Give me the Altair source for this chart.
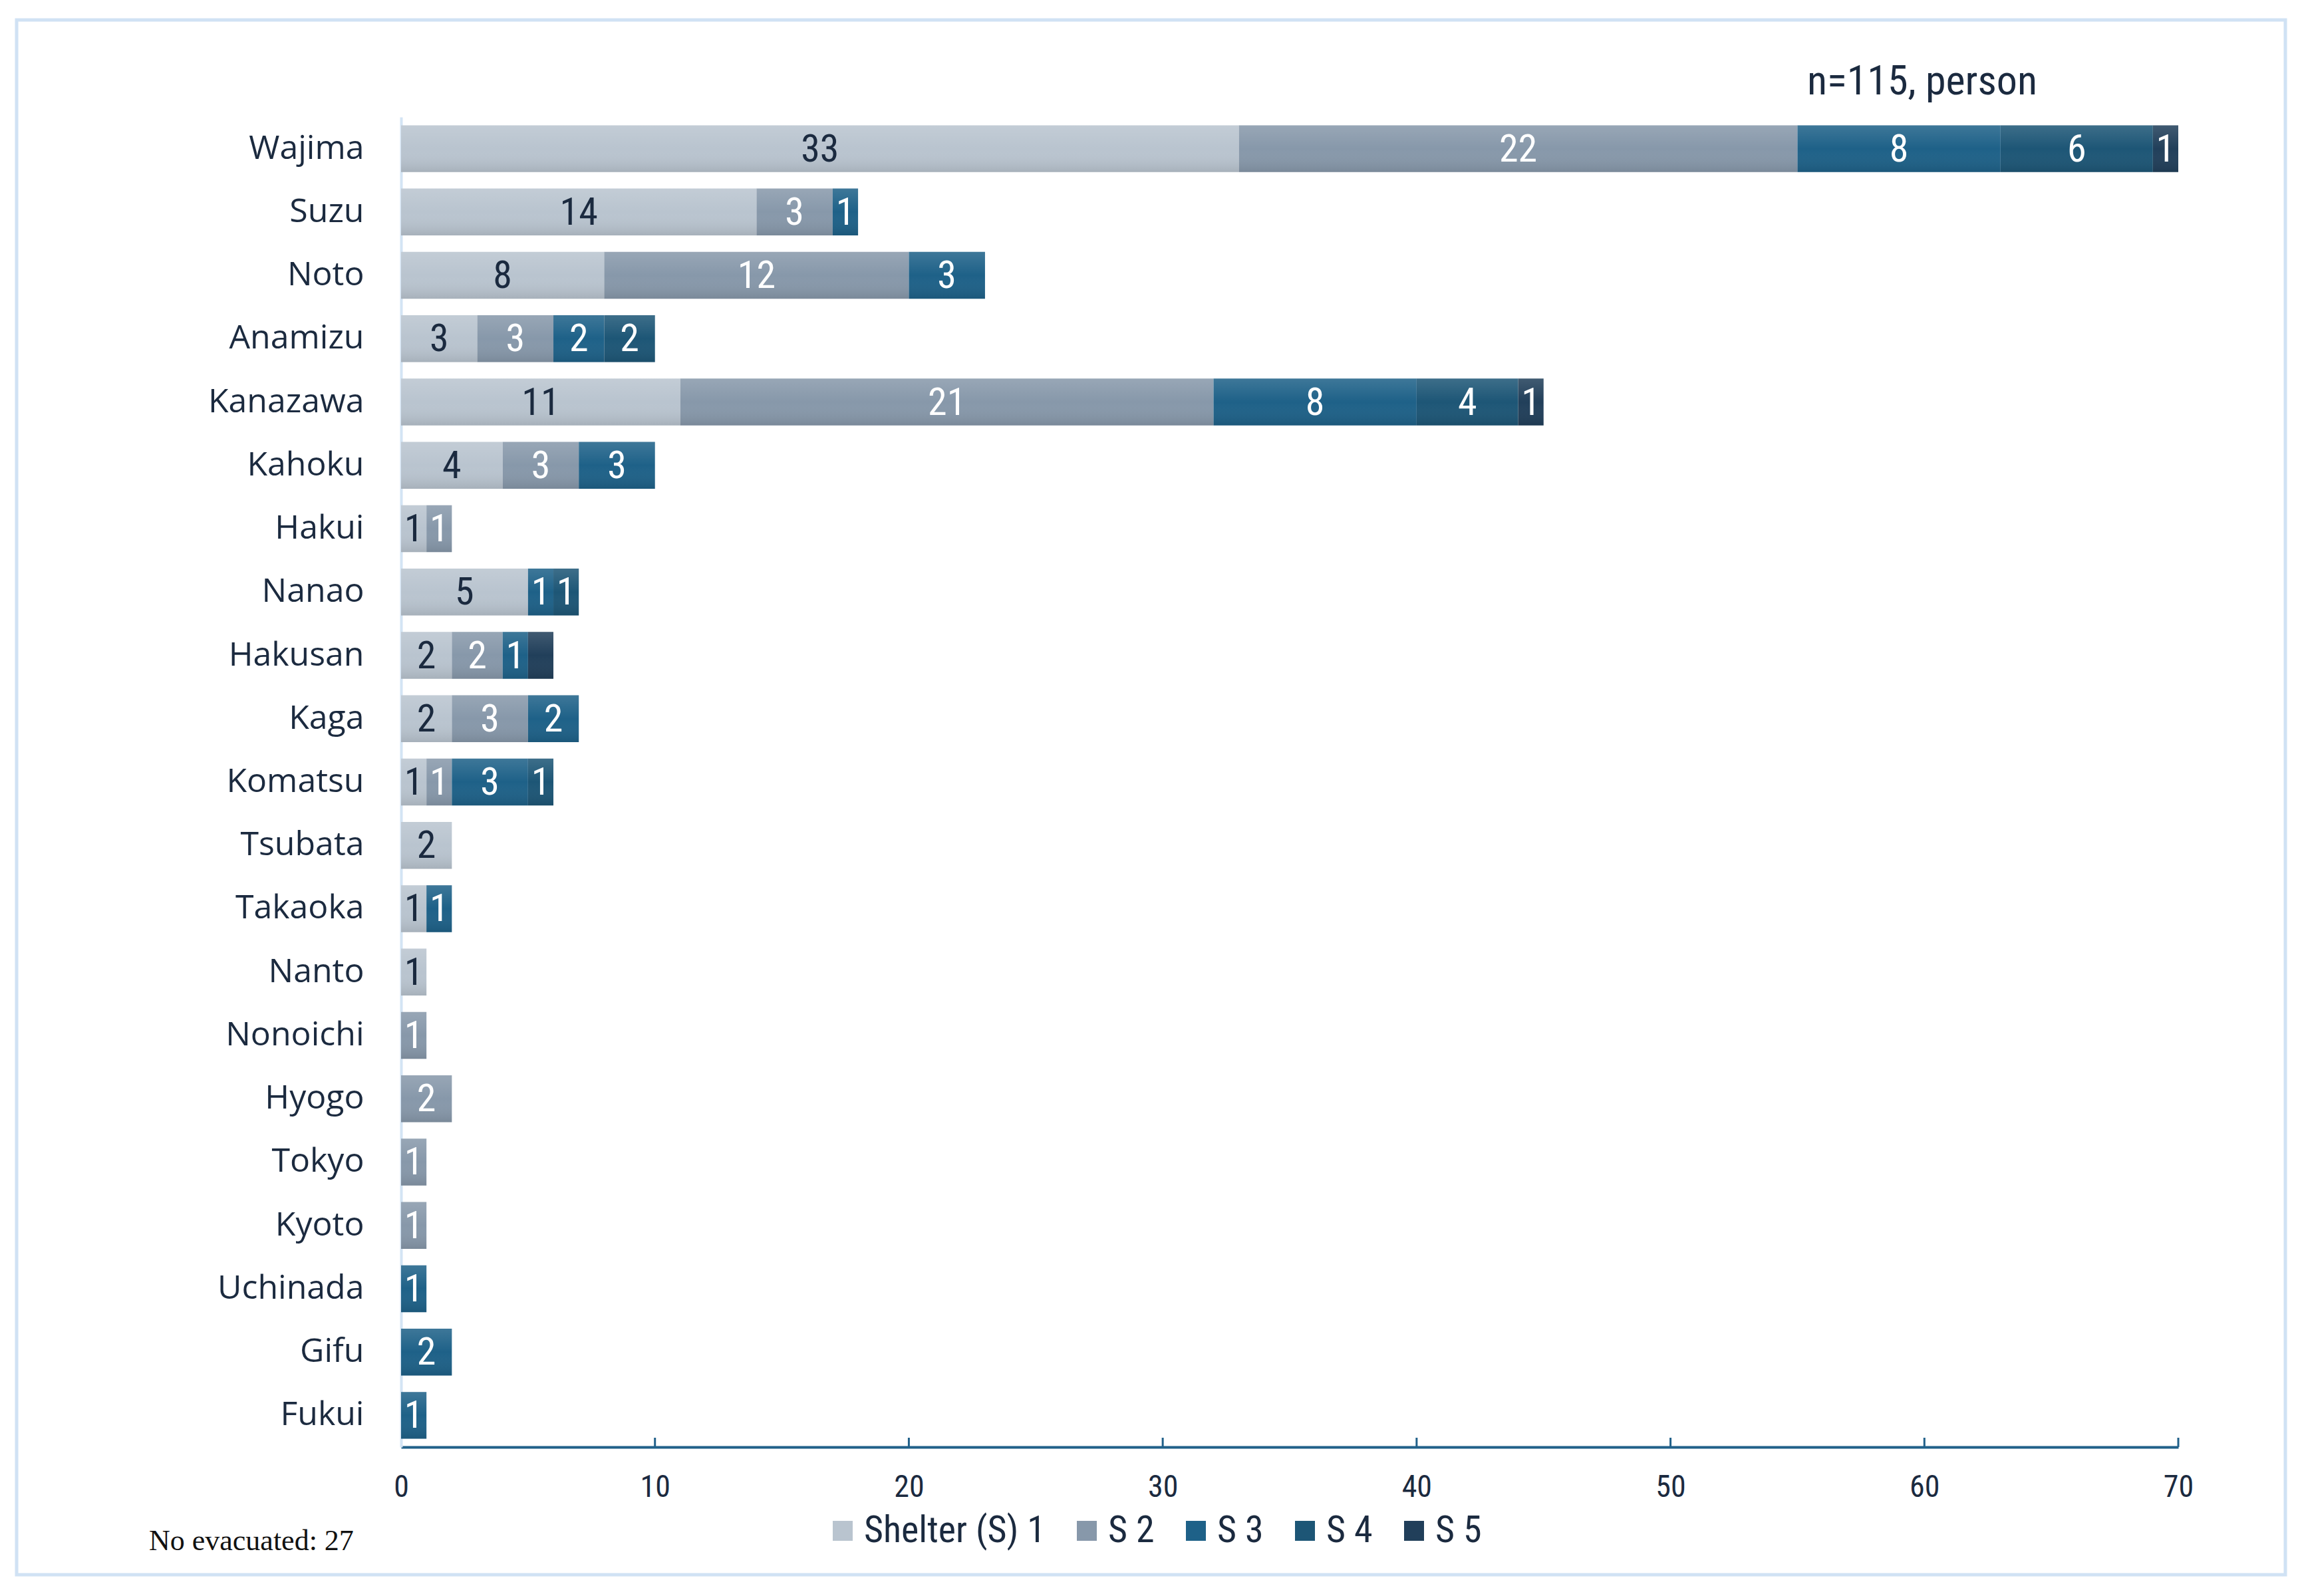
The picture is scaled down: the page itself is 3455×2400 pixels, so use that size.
import altair as alt
import pandas as pd

# ---------------- data ----------------
cities = ["Wajima", "Suzu", "Noto", "Anamizu", "Kanazawa", "Kahoku", "Hakui",
          "Nanao", "Hakusan", "Kaga", "Komatsu", "Tsubata", "Takaoka", "Nanto",
          "Nonoichi", "Hyogo", "Tokyo", "Kyoto", "Uchinada", "Gifu", "Fukui"]
series = ["Shelter (S) 1", "S 2", "S 3", "S 4", "S 5"]
s1 = [33, 14, 8, 3, 11, 4, 1, 5, 2, 2, 1, 2, 1, 1, 0, 0, 0, 0, 0, 0, 0]
s2 = [22, 3, 12, 3, 21, 3, 1, 0, 2, 3, 1, 0, 0, 0, 1, 2, 1, 1, 0, 0, 0]
s3 = [8, 1, 3, 2, 8, 3, 0, 1, 1, 2, 3, 0, 1, 0, 0, 0, 0, 0, 1, 2, 1]
s4 = [6, 0, 0, 2, 4, 0, 0, 1, 0, 0, 1, 0, 0, 0, 0, 0, 0, 0, 0, 0, 0]
s5 = [1, 0, 0, 0, 1, 0, 0, 0, 1, 0, 0, 0, 0, 0, 0, 0, 0, 0, 0, 0, 0]
hidden_labels = [("Hakusan", "S 5")]   # segment drawn without a data label
colors = ["#b9c4cf", "#8798aa", "#1e6188", "#1d5676", "#213f5a"]
x_ticks = [0, 10, 20, 30, 40, 50, 60, 70]
note_top = "n=115, person"
note_bottom = "No evacuated: 27"

rows = []
for si, (name, vals) in enumerate(zip(series, [s1, s2, s3, s4, s5])):
    for ci, (c, v) in enumerate(zip(cities, vals)):
        if v > 0:
            lab = "" if (c, name) in hidden_labels else str(v)
            rows.append({"city": c, "series": name, "order": si, "value": v, "label": lab})
df = pd.DataFrame(rows)

W, H = 2672, 2000
NARROW = "Liberation Sans Narrow, Roboto Condensed, DejaVu Sans Condensed, Arial Narrow, sans-serif"
REG = "Open Sans, Noto Sans, Liberation Sans, sans-serif"
DARK = "#1b2a3f"
AXBLUE = "#21618a"

base = alt.Chart(df).transform_stack(
    stack="value", groupby=["city"], as_=["x0", "x1"],
    sort=[alt.SortField("order", order="ascending")]
)

y_enc = alt.Y("city:N", sort=cities, title=None,
              scale=alt.Scale(paddingInner=0.26, paddingOuter=0.13),
              axis=alt.Axis(labelFont=REG, labelFontSize=50, labelColor=DARK,
                            labelPadding=56, labelLimit=0, ticks=False,
                            domainColor="#d3e4f4", domainWidth=4, grid=False))
x_scale = alt.Scale(domain=[0, 70], nice=False)

bars = base.mark_bar(strokeWidth=0).encode(
    y=y_enc,
    x=alt.X("x0:Q", scale=x_scale, title=None,
            axis=alt.Axis(values=x_ticks, labelFont=NARROW, labelFontSize=46,
                          labelColor=DARK, labelPadding=38, labelFlush=False,
                          ticks=False, domainColor=AXBLUE, domainWidth=4, grid=False)),
    x2="x1:Q",
    color=alt.Color("series:N", scale=alt.Scale(domain=series, range=colors),
                    legend=alt.Legend(title=None, orient="none", direction="horizontal",
                                      columns=5, legendX=636, legendY=2098,
                                      symbolType="square", symbolSize=900,
                                      symbolStrokeWidth=0, labelFont=NARROW,
                                      labelFontSize=56, labelColor=DARK, labelLimit=0,
                                      labelOffset=4, columnPadding=34,
                                      symbolOffset=0)),
)

shade = base.mark_bar(
    color=alt.Gradient(gradient="linear", x1=0, x2=0, y1=0, y2=1,
                       stops=[alt.GradientStop(color="rgba(255,255,255,0.14)", offset=0),
                              alt.GradientStop(color="rgba(255,255,255,0.0)", offset=0.5),
                              alt.GradientStop(color="rgba(0,0,0,0.10)", offset=1)])
).encode(y=alt.Y("city:N", sort=cities), x="x0:Q", x2="x1:Q")

labels = base.transform_calculate(mid="(datum.x0 + datum.x1) / 2").mark_text(
    font=NARROW, fontSize=58, baseline="middle", align="center", dy=2
).encode(
    y=alt.Y("city:N", sort=cities),
    x=alt.X("mid:Q"),
    text="label:N",
    color=alt.condition(alt.datum.order == 0, alt.value(DARK), alt.value("white")),
)

tick_df = pd.DataFrame({"t": x_ticks[1:]})
ticks = alt.Chart(tick_df).mark_rule(color=AXBLUE, strokeWidth=3).encode(
    x=alt.X("t:Q"), y=alt.value(H - 14), y2=alt.value(H)
)

one = pd.DataFrame({"a": [0]})
frame = alt.Chart(one).mark_rect(fill="transparent", stroke="#d0e2f4", strokeWidth=5).encode(
    x=alt.value(25 - 603), x2=alt.value(3436 - 603),
    y=alt.value(30 - 176), y2=alt.value(2368 - 176)
)
top_note = alt.Chart(one).mark_text(
    text=note_top, font=NARROW, fontSize=62, color=DARK, align="left", baseline="middle"
).encode(x=alt.value(2717 - 603), y=alt.value(123 - 176))
bottom_note = alt.Chart(one).mark_text(
    text=note_bottom, font="Liberation Serif, Times New Roman, serif", fontSize=44,
    color="#111111", align="left", baseline="middle"
).encode(x=alt.value(224 - 603), y=alt.value(2318 - 176))

chart = alt.layer(frame, bars, shade, labels, ticks, top_note, bottom_note).properties(
    width=W, height=H,
    background="white",
    autosize=alt.AutoSizeParams(type="none"),
    padding={"left": 595, "top": 168, "right": 172, "bottom": 216},
).configure_view(strokeWidth=0, stroke="transparent")

chart.save("out.html", embed_options={"renderer": "svg", "actions": False})
